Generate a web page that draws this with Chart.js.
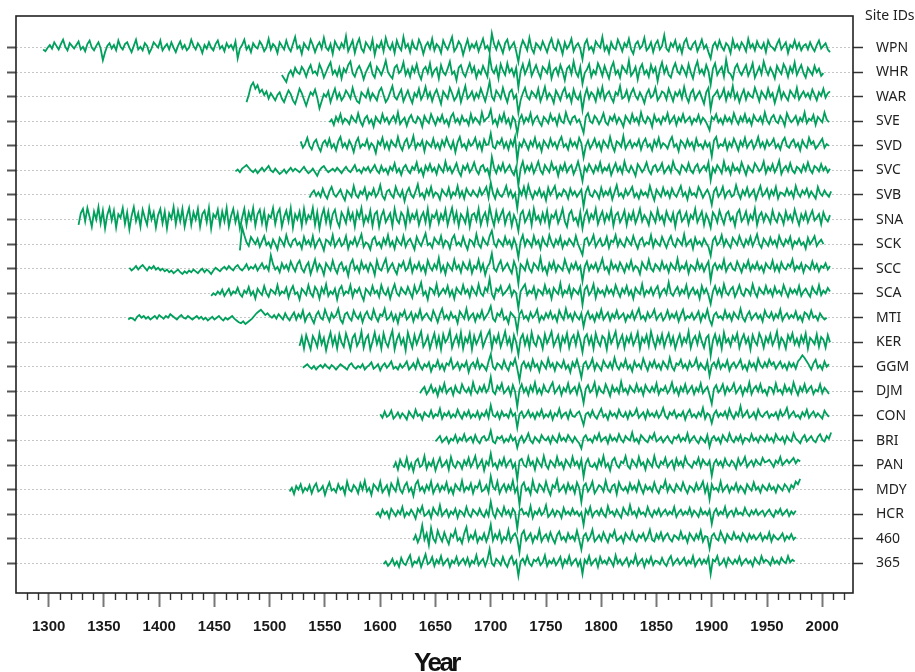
<!DOCTYPE html>
<html>
<head>
<meta charset="utf-8">
<script src="https://cdn.jsdelivr.net/npm/chart.js@4.4.1/dist/chart.umd.min.js"></script>
<style>
  html, body { margin: 0; padding: 0; background: #fff; }
</style>
</head>
<body>
<canvas id="chart" width="915" height="672"></canvas>
<script>
// site codes, top row first
const siteIds = ['WPN', 'WHR', 'WAR', 'SVE', 'SVD', 'SVC', 'SVB', 'SNA', 'SCK', 'SCC', 'SCA',
  'MTI', 'KER', 'GGM', 'DJM', 'CON', 'BRI', 'PAN', 'MDY', 'HCR', '460', '365'];
// first year of each chronology, same order
const startYears = [1295, 1511, 1479, 1554, 1528, 1469, 1536, 1327, 1473, 1373, 1447,
  1372, 1527, 1530, 1636, 1600, 1650, 1612, 1518, 1596, 1630, 1603];
const yearStep = 2;
const yearTicks = [1300, 1350, 1400, 1450, 1500, 1550, 1600, 1650, 1700, 1750, 1800, 1850, 1900, 1950, 2000];

// ring-width indices x100, one value every other year (15 per line = 30 years)
const wpn = [
96,92,100,106,98,112,104,96,108,118,102,94,110,104,98,
106,114,96,102,92,108,116,100,94,104,112,98,72,90,104,
110,98,106,94,116,102,96,108,112,100,90,104,118,96,102,
94,110,104,88,98,112,106,100,116,94,102,108,96,112,100,
90,104,114,98,106,94,100,118,104,96,110,102,88,106,98,
112,100,94,108,116,98,104,92,110,100,106,96,114,76,98,
106,118,96,104,90,110,102,98,114,106,92,100,120,96,108,
102,88,112,104,96,116,100,92,108,124,98,104,86,110,102,
96,118,106,90,104,112,98,122,100,94,108,86,114,104,96,
110,100,126,92,104,116,88,108,120,98,90,112,104,96,118,
84,106,100,114,92,122,104,96,110,88,116,102,94,124,100,
108,90,114,100,96,118,106,86,104,112,98,120,94,108,102,
88,116,104,96,110,124,92,100,114,106,84,102,118,96,108,
100,112,92,106,120,98,104,90,132,108,96,114,102,88,110,
118,96,104,112,92,68,100,116,106,94,122,98,88,110,104,
96,114,102,90,108,120,100,94,116,104,86,112,98,106,120,
92,104,110,98,74,108,118,96,102,90,114,106,100,124,94,
104,88,112,100,96,118,106,92,110,102,120,96,86,108,114,
98,104,122,94,100,112,90,108,116,96,104,128,98,92,110,
102,116,94,106,88,112,120,100,96,108,114,92,104,118,98,
106,90,76,104,112,98,116,102,94,110,104,88,118,100,108,
96,112,104,92,120,100,108,94,114,102,98,110,90,116,104,
100,94,108,118,96,104,112,88,106,100,116,98,110,94,104,
108,96,112,100,92,106,116,98,104,110,96,90];
const whr = [
94,86,78,96,104,92,110,100,96,112,104,90,106,116,98,
102,94,118,106,88,100,112,122,96,104,92,110,86,108,100,
116,124,98,90,106,114,102,84,100,110,120,96,88,112,104,
94,108,126,100,92,86,110,116,98,104,122,94,106,90,112,
100,118,96,84,106,112,98,120,92,104,110,86,116,100,94,
108,124,96,102,82,110,116,98,90,106,120,100,112,88,104,
96,114,102,90,136,106,98,112,86,118,104,94,120,100,108,
92,110,66,102,118,96,108,124,92,104,116,100,88,112,106,
98,120,86,104,110,94,116,102,82,108,114,96,124,100,90,
112,74,98,106,118,90,104,96,120,108,92,114,100,86,110,
122,96,104,88,114,106,98,126,92,100,112,84,108,118,96,
104,90,116,100,110,80,106,122,98,112,94,88,108,120,102,
96,114,104,92,118,100,86,110,124,98,106,94,116,102,72,
108,120,94,104,112,90,128,100,96,84,110,118,102,94,106,
116,92,104,120,88,100,112,96,124,106,94,110,100,86,114,
104,96,118,108,90,112,100,122,94,106,116,98,88,110,102,
94,114,100,108,92,98];
const war = [
88,104,124,132,118,126,110,116,104,112,96,108,100,92,104,
110,96,88,102,114,106,92,84,100,118,108,94,80,96,110,
104,116,98,74,90,106,100,112,88,104,118,96,108,92,100,
114,106,96,120,102,90,86,110,104,98,116,94,108,100,92,
112,120,104,88,96,110,124,100,94,106,116,90,102,114,98,
86,108,100,118,94,104,122,98,110,90,106,116,100,84,112,
104,96,120,108,92,100,116,88,106,124,96,102,112,94,108,
98,118,104,90,110,134,100,92,114,106,96,120,102,88,110,
116,96,104,64,92,108,120,100,94,112,106,98,118,90,104,
122,96,108,100,86,114,104,92,110,120,98,106,88,116,100,
94,108,70,102,118,96,110,104,90,116,100,122,94,106,112,
98,88,110,104,124,96,100,114,92,108,118,102,94,110,100,
86,106,116,98,104,120,92,100,112,108,94,118,104,90,110,
102,114,96,122,100,88,108,116,94,104,112,98,84,110,120,
72,100,106,114,96,104,118,92,110,100,124,96,108,88,104,
116,94,110,102,98,120,106,90,112,104,96,118,100,108,86,
104,122,96,110,100,92,114,106,98,120,94,104,112,100,108,
96,116,104,92,110,102,118,98,108,112];
const sve = [
98,104,92,110,100,116,96,106,102,94,112,104,98,118,100,
90,106,112,96,104,88,110,102,96,116,100,108,94,104,112,
98,120,94,102,108,90,106,114,100,96,110,104,88,112,102,
96,116,104,92,108,100,114,96,104,90,110,118,98,106,94,
112,100,104,92,116,98,108,102,94,120,100,106,110,126,96,
104,90,112,100,118,96,106,88,110,102,72,104,114,96,108,
100,118,94,106,112,98,90,110,104,96,116,102,108,92,114,
100,96,120,104,94,108,112,98,104,90,74,110,118,100,96,
112,106,94,104,118,98,92,110,102,114,96,108,100,88,112,
104,96,116,100,108,94,120,102,96,110,104,88,114,100,106,
94,110,102,118,96,104,112,92,108,100,116,98,104,110,94,
106,100,114,96,108,102,92,80,110,104,116,98,106,94,112,
100,108,96,118,104,94,110,100,116,98,106,92,114,104,100,
110,96,120,102,94,108,114,100,96,112,104,90,118,106,98,
104,112,94,108,100,120,96,106,102,114,92,110,104,98,120,
104,98];
const svd = [
110,96,104,118,100,92,108,114,98,88,106,112,100,116,96,
104,90,110,120,98,106,94,112,102,86,108,118,96,104,100,
114,94,106,100,84,110,102,118,96,108,92,112,104,98,120,
100,90,108,116,96,104,122,94,106,100,112,88,110,104,98,
116,96,106,92,112,100,118,104,94,110,86,108,120,98,104,
92,112,100,106,118,96,108,90,114,102,104,128,98,94,110,
104,116,96,108,92,112,100,120,68,106,98,114,104,92,110,
100,118,96,106,88,112,104,96,116,100,108,94,110,120,98,
104,92,114,100,108,96,118,106,74,100,112,94,104,116,98,
108,90,112,104,96,120,100,88,110,106,98,122,94,104,112,
96,106,100,114,92,108,116,98,104,90,112,100,118,96,106,
102,94,110,120,98,104,88,112,106,96,114,100,108,92,116,
100,104,94,110,98,106,76,112,120,96,104,100,114,92,108,
98,116,104,90,110,100,118,96,106,112,94,104,120,98,108,
94,112,100,106,116,96,104,92,110,118,100,96,108,114,98,
106,90,112,102,96,118,104,110,94,100,108,116,96,104,100];
const svc = [
98,102,96,104,108,112,106,100,96,102,94,100,106,98,104,
110,100,96,104,98,92,96,102,94,100,106,98,104,100,96,
102,108,100,94,98,104,96,88,100,106,110,102,96,100,104,
98,106,100,94,102,108,100,96,104,112,98,102,94,106,100,
108,96,104,112,100,94,110,98,104,92,108,100,116,96,104,
90,106,112,100,94,108,102,118,96,104,88,110,100,114,98,
106,92,112,104,96,120,100,108,94,104,116,98,88,110,102,
114,96,104,118,100,92,108,112,98,104,86,130,106,94,110,
100,116,96,104,112,98,90,108,66,104,120,96,110,100,114,
94,106,120,100,92,112,104,96,118,102,108,88,110,100,116,
96,106,112,92,104,120,100,76,108,98,114,104,94,110,100,
118,96,106,100,112,90,104,116,98,108,94,120,102,96,110,
100,88,114,106,96,104,118,100,92,108,112,98,104,116,94,
102,110,96,120,104,100,92,112,106,98,116,100,94,108,114,
96,104,110,100,118,78,106,96,112,104,94,120,100,108,92,
114,100,106,96,118,104,90,110,102,96,116,108,98,104,120,
94,108,100,114,96,106,122,92,104,110,98,116,100,94,108,
104,96,112,100,118,102,94,110,106,98,114,100,108,96,104];
const svb = [
94,104,110,98,106,96,114,100,92,108,118,102,96,104,112,
98,88,110,104,96,120,100,94,108,102,116,92,106,100,114,
96,104,122,98,90,108,112,100,94,118,104,96,110,86,106,
116,100,94,108,124,98,104,92,112,100,118,96,106,102,90,
112,104,98,116,94,106,100,120,96,108,92,114,104,98,110,
102,96,114,100,108,118,94,128,104,92,112,100,96,106,120,
98,110,94,104,70,112,100,118,96,122,104,92,108,100,114,
96,106,88,116,100,110,120,94,104,98,112,106,92,114,100,
108,96,104,112,74,106,118,100,96,110,104,92,116,98,108,
100,114,90,106,122,98,104,94,112,100,108,118,96,104,92,
110,100,106,96,120,102,88,112,104,96,116,100,108,94,114,
102,96,108,120,98,106,90,114,100,104,96,118,108,94,104,
112,100,78,108,116,96,104,118,94,106,110,96,100,122,104,
92,110,100,116,96,104,112,90,106,120,98,104,114,94,110,
100,118,92,106,104,98,114,100,108,94,120,104,96,110,102,
114,96,108,100,92,118,104,98,110,102,96,108];
const sna = [
88,114,124,96,126,106,84,118,100,128,92,120,80,110,126,
98,120,82,112,104,126,90,116,78,108,128,96,114,84,122,
104,88,126,100,116,82,110,124,92,118,80,114,102,128,90,
120,96,124,84,108,126,88,116,100,124,84,112,120,94,126,
80,112,104,122,88,118,96,126,84,108,124,94,114,80,104,
124,88,116,100,126,86,112,122,92,118,82,110,104,126,90,
114,124,84,106,120,96,126,82,112,100,118,86,124,94,110,
102,126,88,116,80,108,124,94,118,86,112,122,96,84,116,
106,92,122,100,114,84,118,104,126,90,108,96,120,86,112,
118,84,108,120,94,104,114,86,124,100,92,116,108,84,122,
96,112,102,118,88,106,116,94,124,86,110,104,118,92,112,
100,122,88,108,126,96,116,86,112,104,92,120,84,110,114,
98,124,88,106,116,92,128,104,86,118,96,110,122,90,108,
116,86,110,98,74,112,120,94,104,118,88,124,100,108,92,
114,96,120,86,110,104,118,92,106,124,96,84,112,120,98,
104,88,116,80,108,120,96,112,102,124,90,106,118,94,112,
100,122,86,110,116,94,104,120,88,112,100,118,92,106,124,
96,110,102,88,116,106,94,122,100,108,90,118,104,96,114,
84,112,120,96,104,116,90,110,102,124,94,106,118,88,112,
100,82,116,108,94,120,104,90,112,118,98,106,86,114,122,
96,104,118,92,110,100,124,88,108,116,96,112,104,92,120,
102,94,114,106,90,118,100,110,96,122,104,88,112,100,116,
94,108,120,98,104,112,90,116,102,96,110];
const sck = [
86,138,120,104,96,116,108,100,112,94,106,118,98,104,92,
110,100,88,114,106,96,120,102,94,108,112,98,104,90,116,
100,108,96,118,92,104,112,100,86,110,106,98,120,94,104,
112,96,102,118,90,106,100,114,96,108,122,94,104,100,88,
110,116,98,104,92,112,100,120,96,106,90,114,104,98,118,
94,106,112,100,88,116,104,96,110,124,98,102,92,114,106,
100,118,94,108,104,90,112,120,98,104,96,116,100,88,110,
106,96,122,100,92,114,104,98,118,130,102,94,110,104,96,
116,100,108,92,112,98,70,106,120,96,110,104,94,118,100,
108,90,114,102,96,120,104,94,110,100,116,92,106,98,112,
104,96,118,100,88,76,110,114,98,106,120,94,104,112,96,
100,116,92,108,104,120,96,110,100,94,114,106,98,118,102,
90,108,114,96,104,100,120,94,110,102,96,116,104,92,108,
118,100,94,112,106,98,122,96,104,110,90,114,100,106,96,
112,102,94,74,108,116,98,104,120,96,110,100,92,114,106,
98,118,104,94,110,100,116,96,108,122,100,92,112,104,96,
114,100,108,94,118,104,96,110,102,116,92,106,100,112,98,
104,90,114,100,108,118,96,104,110,100];
const scc = [
102,96,100,106,98,104,108,102,96,104,100,106,98,102,96,
100,94,98,92,96,90,94,98,92,88,94,90,96,92,98,
94,90,96,100,92,98,94,88,96,102,98,94,100,104,98,
106,100,96,104,108,100,96,102,110,98,104,100,108,96,104,
112,100,106,96,130,110,98,104,92,112,100,108,96,116,104,
94,110,118,100,92,106,114,88,104,120,96,110,102,86,112,
104,96,118,100,90,108,114,96,104,84,110,120,98,106,92,
116,100,108,94,112,104,86,118,100,96,110,122,94,104,112,
98,88,110,104,116,96,102,120,92,108,100,114,96,106,90,
118,104,96,110,100,124,94,106,88,112,104,96,120,100,108,
92,114,104,98,116,90,106,100,120,96,110,86,104,112,134,
100,94,108,118,96,104,112,100,90,116,102,66,110,104,96,
118,100,92,112,106,98,124,96,104,88,112,100,116,94,108,
102,96,120,104,92,110,100,114,98,106,72,104,116,96,108,
100,112,94,106,122,98,104,90,116,100,108,96,114,104,92,
110,100,118,96,106,102,88,114,104,98,120,100,94,110,104,
96,116,100,108,92,112,104,98,122,96,106,100,114,90,108,
104,96,118,100,110,94,106,116,74,104,112,98,108,100,120,
94,106,112,100,96,116,104,92,110,102,118,96,108,100,114,
98,106,92,112,104,100,118,96,108,94,114,102,98,110,104,
120,96,106,100,112,92,108,104,98,116,100,110,94,106,102,
112,98,106];
const sca = [
94,100,96,104,98,108,94,102,110,96,104,100,112,98,92,
106,100,114,96,104,88,110,102,96,116,100,92,108,104,98,
118,96,104,100,112,90,106,116,98,102,86,110,104,96,118,
100,92,114,106,88,112,100,120,94,104,98,110,86,108,116,
96,104,100,118,92,108,102,112,96,84,110,104,96,116,100,
106,92,118,102,96,110,88,106,120,100,94,112,104,98,114,
102,90,116,100,108,124,96,104,86,112,108,98,120,94,102,
110,100,116,94,106,88,112,104,98,118,100,108,92,114,104,
96,120,100,94,112,104,132,98,88,110,104,116,96,102,108,
118,94,106,100,66,104,112,120,96,106,100,114,90,108,104,
96,118,100,108,88,112,104,98,122,94,106,100,116,92,110,
104,98,114,74,108,116,96,104,120,90,110,100,106,94,114,
100,108,96,118,104,92,110,100,116,96,106,88,112,104,98,
120,94,106,100,112,96,108,116,92,104,110,98,124,100,94,
106,114,96,108,100,118,92,104,112,98,106,88,116,100,110,
96,76,104,116,98,110,94,120,102,96,108,114,92,104,118,
100,94,110,106,96,120,102,92,112,104,98,116,100,108,94,
114,100,106,96,118,104,92,110,100,108,98,116,94,104,110,
100,92,114,104,98,118,96,106,100,112,104];
const mti = [
96,100,98,94,102,106,100,104,98,102,96,100,104,98,106,
102,98,104,100,108,104,100,96,102,106,100,98,104,100,96,
100,104,98,102,96,100,94,98,102,96,100,104,98,94,100,
96,100,104,98,94,90,88,92,86,90,94,98,104,110,114,
118,112,106,110,104,100,106,98,108,102,96,110,100,94,104,
112,96,108,100,116,92,104,110,98,88,106,114,100,96,118,
104,92,110,100,106,120,96,88,108,112,100,94,116,104,98,
110,90,106,114,100,96,118,102,92,108,104,120,96,100,112,
94,106,88,110,104,116,96,102,112,92,108,100,118,96,104,
110,100,94,116,104,90,108,120,98,106,96,112,100,104,88,
114,106,98,120,96,104,110,92,108,100,116,96,104,112,126,
98,92,110,104,118,96,102,88,112,106,100,70,108,116,98,
104,94,112,100,106,118,92,104,96,110,100,114,98,106,92,
116,104,96,120,100,108,94,112,102,96,110,80,104,114,98,
106,92,110,100,118,96,104,112,94,108,100,116,98,104,110,
92,106,100,114,96,108,120,98,104,94,112,100,106,118,96,
104,110,94,102,116,98,108,100,112,92,106,118,96,104,100,
110,96,104,114,92,108,100,118,96,84,106,112,100,104,96,
116,100,108,94,112,104,98,120,100,92,106,114,96,104,110,
98,106,92,116,104,100,112,96,108,100,118,94,104,110,98,
106,100,114,96,104,92,112,108,98,116,100,104,94,110,102,
96,100];
const ker = [
92,112,86,116,100,84,114,104,90,120,96,110,82,104,122,
94,112,86,118,100,90,120,104,84,110,118,92,102,124,88,
108,116,84,102,122,96,112,86,120,100,90,110,126,84,106,
118,96,108,82,122,104,88,116,96,110,124,90,100,114,86,
104,120,92,112,84,118,100,108,126,88,104,116,94,122,86,
110,100,120,84,114,96,108,122,90,104,116,126,86,112,100,
118,90,106,124,96,110,84,116,100,72,108,118,94,112,88,
122,100,92,114,106,86,118,98,110,124,92,104,116,86,112,
100,120,88,108,116,94,122,104,78,110,118,96,112,86,120,
102,92,114,108,84,120,98,110,124,90,104,116,88,112,100,
118,94,106,122,86,110,100,116,92,124,104,88,112,98,118,
90,108,120,96,112,86,104,118,94,110,100,124,88,106,114,
96,120,102,88,110,116,70,104,118,96,112,86,122,100,108,
92,114,104,120,88,106,118,98,110,84,116,102,94,120,108,
88,112,100,118,94,106,124,90,110,102,86,116,104,120,96,
108,92,114,100,120,86,110,104,96,118,90,112,106,88,116,
100];
const ggm = [
98,102,106,100,96,102,94,100,104,98,106,100,96,104,100,
94,100,106,102,98,94,104,108,100,96,102,98,106,94,100,
104,110,96,100,106,92,102,108,98,104,112,96,100,94,106,
98,104,112,94,100,108,96,116,102,94,106,100,110,90,104,
100,114,96,106,92,108,104,118,96,102,110,94,106,100,112,
88,104,110,98,116,96,106,100,92,112,128,100,94,108,104,
96,114,100,92,110,104,118,96,70,104,112,98,108,94,116,
100,106,90,112,104,96,118,100,108,92,110,104,98,114,96,
104,88,110,100,116,98,76,106,112,96,104,118,94,108,100,
92,114,104,98,110,96,120,102,94,108,100,116,96,104,90,
112,100,106,96,118,104,92,110,100,114,98,106,94,112,104,
96,120,100,92,108,104,116,98,106,94,112,100,104,118,96,
108,100,94,112,80,104,110,98,116,96,106,100,114,92,104,
110,98,106,116,96,104,92,112,100,108,94,118,104,98,110,
100,116,104,110,96,104,112,98,106,94,110,100,108,96,112,
118,126,120,112,104,94,108,116,98,104,94,112,100,106];
const djm = [
96,104,110,94,102,114,98,106,90,110,100,118,96,104,108,
92,112,100,96,116,104,98,108,94,120,102,96,110,100,114,
98,106,132,100,94,112,104,118,96,102,110,92,114,100,66,
104,116,98,108,92,112,100,120,96,106,94,114,102,98,110,
120,96,104,112,92,108,100,118,96,104,110,94,116,100,74,
106,114,98,104,120,92,110,100,96,116,104,90,112,100,108,
96,122,100,106,94,112,104,98,116,100,108,92,114,104,98,
110,100,118,94,106,102,112,96,104,120,98,108,92,110,100,
116,96,104,112,94,108,100,118,96,104,110,92,72,106,114,
98,104,116,94,110,100,106,118,96,104,112,92,108,100,120,
94,106,112,100,116,98,104,92,110,108,96,118,100,104,94,
114,100,108,96,120,104,92,110,100,116,98,106,112,94,104,
100,116,96,108,102,94];
const con = [
104,96,110,98,102,112,94,100,108,96,106,100,92,110,102,
96,114,100,104,92,108,102,98,112,96,104,100,116,94,106,
100,110,96,104,98,114,102,94,108,100,112,96,104,98,110,
94,106,100,112,96,124,102,98,108,94,110,100,104,96,114,
100,106,74,104,110,96,102,112,98,106,94,108,100,114,96,
104,98,110,92,106,100,116,96,104,108,94,112,100,98,106,
110,96,80,104,108,98,112,100,94,106,116,98,104,92,110,
100,106,96,114,102,98,108,94,110,100,104,116,96,102,108,
94,112,100,106,98,110,96,104,118,100,94,108,102,112,96,
104,100,110,92,106,114,98,104,96,108,100,118,94,106,102,
84,104,112,98,106,100,110,96,116,102,94,108,100,122,98,
104,112,96,100,108,94,114,102,98,106,110,96,104,100,108,
94,112,100,106,118,96,104,110,98,102,94,108,100,114,96,
104,110,98,106,100,94,112,104,98];
const bri = [
98,104,110,96,102,108,94,104,100,112,96,106,100,114,98,
104,108,96,112,100,94,106,110,100,104,122,98,94,108,104,
110,96,104,98,112,100,106,84,102,110,96,104,116,100,94,
108,102,96,112,104,100,108,94,110,102,96,114,100,106,98,
112,104,96,108,100,94,82,106,112,100,104,96,110,102,116,
98,104,108,94,112,100,106,98,114,102,96,110,104,100,118,
98,104,94,112,106,100,96,110,104,116,98,102,108,96,104,
110,100,94,108,104,112,98,106,100,116,96,104,110,100,94,
108,102,96,112,86,104,110,100,106,94,112,104,98,116,102,
96,108,100,112,94,106,104,98,114,100,106,96,110,104,98,
112,100,106,96,114,104,100,108,94,110,102,98,116,104,100,
94,106,112,98,104,110,100,96,108,114,102,98,110,104,118];
const pan = [
94,106,90,112,100,96,116,92,104,86,108,114,96,100,120,
92,106,98,112,88,104,116,96,102,110,90,118,100,94,108,
104,92,110,100,116,96,106,120,94,102,112,88,108,100,126,
98,104,92,110,100,116,96,106,112,94,104,68,110,114,100,
96,118,100,108,90,114,104,96,120,100,92,110,104,96,118,
100,106,92,112,104,96,118,100,108,94,112,74,104,114,98,
96,104,92,112,100,120,96,104,88,110,116,100,94,108,104,
120,98,92,112,104,96,118,100,106,90,112,104,96,120,100,
94,108,102,116,96,104,110,92,114,100,108,96,118,104,100,
94,108,102,116,96,112,104,100,110,76,104,112,100,108,96,
114,102,98,110,104,92,114,100,106,118,96,104,110,98,112,
104,100,116,106,108,112,104,96,110,104,118,100,106,112,104,
110,116,104,112,108];
const mdy = [
96,104,90,108,100,112,94,104,98,110,92,106,114,96,100,
108,88,104,116,98,102,94,112,100,106,90,118,100,96,110,
104,92,114,100,120,96,104,88,112,106,98,118,94,102,110,
90,114,104,96,122,100,92,108,116,96,104,86,112,120,98,
106,94,110,100,118,92,104,112,96,108,100,116,94,104,90,
112,104,98,120,96,106,100,114,92,108,104,118,96,100,110,
94,130,106,100,118,92,104,112,96,110,100,120,94,106,66,
108,116,98,104,90,120,100,94,112,106,96,118,100,88,110,
104,122,96,102,110,94,114,100,108,92,116,104,72,108,114,
96,104,118,92,100,110,106,96,120,100,94,108,112,90,116,
104,98,106,94,114,100,108,96,118,104,92,110,100,106,96,
116,100,92,108,104,120,96,110,100,94,112,104,98,116,102,
92,108,104,96,114,100,106,118,94,110,78,112,100,104,96,
118,96,104,110,94,106,100,114,96,108,102,92,112,104,98,
116,100,106,94,110,104,98,112,100,106,94,110,104,98,112,
106,96,110,104,118,112,124];
const hcr = [
98,104,94,110,100,106,92,112,104,96,108,100,116,94,104,
98,110,102,90,112,104,118,96,100,108,92,114,104,98,120,
96,104,110,94,106,100,112,92,108,104,96,116,100,94,110,
104,98,112,100,94,108,96,128,102,92,112,104,96,116,100,
108,94,112,104,68,108,112,100,104,96,118,92,106,100,112,
98,104,120,94,100,110,96,108,104,92,114,100,106,98,112,
100,106,96,104,76,110,100,116,94,104,108,98,112,100,94,
118,102,106,96,110,100,92,114,104,98,120,100,106,94,112,
100,104,96,116,102,94,108,100,112,96,104,110,98,106,100,
116,94,104,110,98,106,100,114,96,108,102,94,112,100,106,
98,110,78,104,112,98,106,100,116,94,104,108,96,112,100,
104,98,114,102,96,108,100,110,98,104,108,96,104,110,100,
94,108,102,112,98,104,110,96,106,100,108];
const s460 = [
96,108,92,104,130,98,112,86,124,100,92,118,104,94,114,
100,88,110,104,120,96,102,90,112,126,96,108,100,116,92,
104,98,112,94,108,132,96,110,100,116,92,104,98,120,94,
106,112,100,70,110,118,96,104,112,92,106,100,120,94,104,
110,96,114,100,90,108,116,98,104,94,112,100,106,96,118,
98,76,106,112,96,104,120,94,100,108,96,114,102,92,110,
104,118,96,100,106,92,112,104,98,116,100,94,108,102,112,
96,104,120,98,94,110,100,114,96,106,112,100,94,108,104,
98,116,100,106,92,112,104,96,110,100,118,94,106,104,78,
106,112,100,96,116,104,92,110,102,98,114,100,106,96,112,
104,94,110,100,108,98,104,112,96,106,100,114,94,108,102,
98,104,112,96,106,100,110,98,104];
const s365 = [
98,104,94,100,110,96,104,92,112,100,96,108,118,94,104,
100,112,92,106,120,98,102,114,94,108,100,116,96,104,110,
92,106,100,114,96,104,110,98,112,94,106,100,118,96,104,
110,94,108,132,100,94,110,104,96,114,100,92,108,116,98,
106,72,104,110,98,116,100,94,108,104,112,96,102,118,94,
106,100,110,96,104,114,92,108,100,116,96,104,110,94,106,
76,108,100,116,96,104,110,92,114,100,106,98,112,104,94,
118,100,108,96,104,112,94,106,100,118,96,104,110,92,108,
100,114,96,106,104,98,112,100,94,108,116,96,104,110,98,
104,112,96,106,100,116,94,104,110,98,108,100,114,76,108,
104,116,96,100,110,94,112,104,98,108,100,114,96,104,110,
100,106,94,112,104,98,116,102,108,104,96,112,100,106,98,
112,104,100,116,102,108,104];

const series = [wpn, whr, war, sve, svd, svc, svb, sna, sck, scc, sca,
  mti, ker, ggm, djm, con, bri, pan, mdy, hcr, s460, s365];

const lineGreen = '#00a05c';
const nRows = siteIds.length;
const rowSpan = 0.55;                 // index units per row spacing
const rowOf = (k) => nRows - 1 - k;   // bottom row is 0
const rowTicks = (scale) => { scale.ticks = siteIds.map((_, k) => ({ value: k })); };

// each chronology is drawn around its own row: index 1.0 sits on the row line
const datasets = siteIds.map((id, k) => ({
  label: id,
  data: series[k].map((v, i) => ({
    x: startYears[k] + i * yearStep,
    y: rowOf(k) + (v - 100) / 100 / rowSpan,
  })),
  borderColor: lineGreen,
  borderWidth: 1.8,
  pointRadius: 0,
  pointHoverRadius: 0,
  pointHitRadius: 0,
  tension: 0,
  fill: false,
}));

const decorations = {
  id: 'decorations',
  afterDraw(chart) {
    const { ctx, chartArea: { left, top, right, bottom }, scales: { x } } = chart;
    ctx.save();
    // decade ticks between the labelled ones
    ctx.strokeStyle = '#333';
    ctx.lineWidth = 1.4;
    ctx.beginPath();
    for (let yr = 1280; yr <= 2020; yr += 10) {
      if (yr % 50 === 0) continue;
      const px = Math.round(x.getPixelForValue(yr)) + 0.5;
      ctx.moveTo(px, bottom);
      ctx.lineTo(px, bottom + 7);
    }
    ctx.stroke();

    ctx.strokeStyle = '#222';
    ctx.lineWidth = 1.6;
    ctx.strokeRect(left, top, right - left, bottom - top);

    ctx.fillStyle = '#222';
    ctx.font = '14px "Noto Sans"';
    ctx.textAlign = 'left';
    ctx.textBaseline = 'alphabetic';
    ctx.fillText('Site IDs', right + 12, 20);

    ctx.fillStyle = '#111';
    ctx.font = 'bold 26px "Liberation Sans"';
    ctx.letterSpacing = '-2.5px';
    ctx.textAlign = 'center';
    ctx.fillText('Year', (left + right) / 2 + 2, 671);
    ctx.restore();
  },
};

new Chart(document.getElementById('chart'), {
  type: 'line',
  data: { datasets },
  plugins: [decorations],
  options: {
    responsive: false,
    devicePixelRatio: 1,
    animation: false,
    normalized: true,
    events: [],
    layout: { autoPadding: false, padding: { top: 16, left: 0, right: 0, bottom: 0 } },
    plugins: { legend: { display: false }, tooltip: { enabled: false } },
    scales: {
      x: {
        type: 'linear',
        position: 'bottom',
        min: 1270.4,
        max: 2027.8,
        afterBuildTicks: (s) => { s.ticks = yearTicks.map((v) => ({ value: v })); },
        afterFit: (s) => { s.height = 79; s.paddingLeft = 0; s.paddingRight = 0; },
        grid: { drawOnChartArea: false, tickLength: 14, tickColor: '#777', tickWidth: 2 },
        border: { display: false },
        ticks: {
          autoSkip: false,
          maxRotation: 0,
          padding: 11,
          color: '#1a1a1a',
          font: { family: '"Liberation Sans", Arial, sans-serif', weight: 'bold', size: 15 },
          callback: (v) => String(v),
        },
      },
      y: {
        type: 'linear',
        position: 'left',
        min: -1.21,
        max: 22.29,
        afterBuildTicks: rowTicks,
        afterFit: (s) => { s.width = 16; s.paddingTop = 0; s.paddingBottom = 0; },
        grid: { color: '#c6c6c6', lineWidth: 1, tickLength: 9, tickColor: '#555', tickWidth: 2 },
        border: { display: false, dash: [2, 2] },
        ticks: { display: false },
      },
      y2: {
        type: 'linear',
        position: 'right',
        min: -1.21,
        max: 22.29,
        afterBuildTicks: rowTicks,
        afterFit: (s) => { s.width = 62; s.paddingTop = 0; s.paddingBottom = 0; },
        grid: { drawOnChartArea: false, tickLength: 10, tickColor: '#333', tickWidth: 1.5 },
        border: { display: false },
        ticks: {
          autoSkip: false,
          padding: 13,
          color: '#222',
          font: { family: '"Noto Sans", sans-serif', size: 14 },
          callback: (v) => siteIds[rowOf(v)],
        },
      },
    },
  },
});
</script>
</body>
</html>
